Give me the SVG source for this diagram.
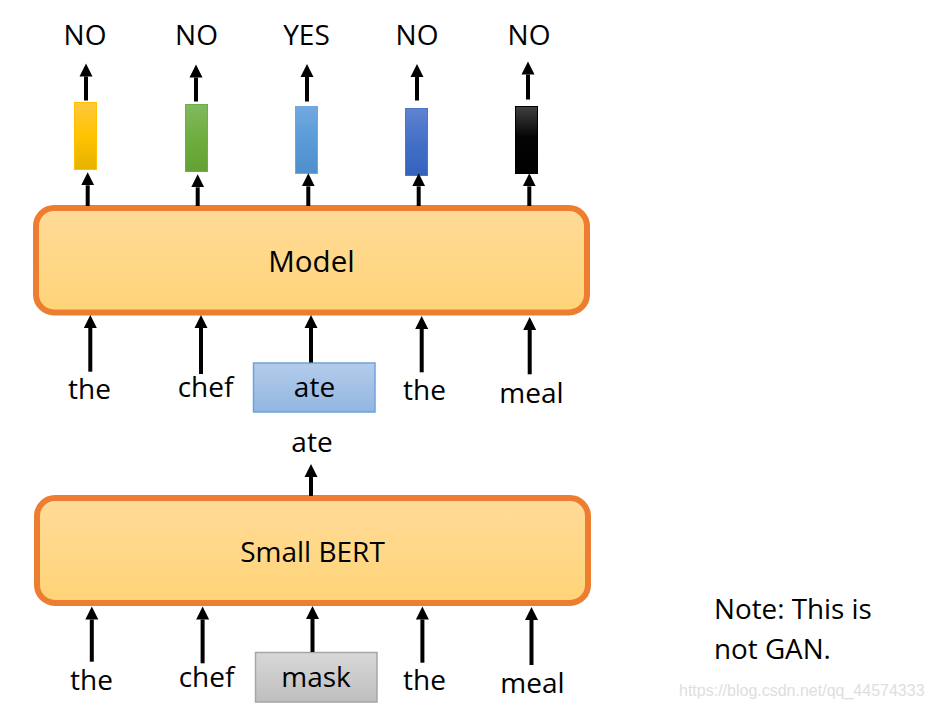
<svg xmlns="http://www.w3.org/2000/svg" width="931" height="709" viewBox="0 0 931 709">
<defs>
<style>
.t{font-family:"Open Sans","Noto Sans","Liberation Sans",sans-serif;fill:#000;text-anchor:middle}
.lbl{font-size:28px}
.big{font-size:29.5px}
.sb{font-size:28px}
.note{font-family:"Open Sans","Noto Sans","Liberation Sans",sans-serif;font-size:27.8px;fill:#000}
.wm{font-family:"Liberation Sans",Arial,sans-serif;font-size:16px;fill:#dedede}
.ar{stroke:#000;stroke-width:4;fill:none;marker-end:url(#ah)}
.box{stroke:#ED7D31;stroke-width:6;fill:url(#gOr)}
</style>
<marker id="ah" markerUnits="userSpaceOnUse" markerWidth="14" markerHeight="14" refX="0" refY="7" orient="auto">
<path d="M0,0.5 L13,7 L0,13.5 z" fill="#000"/>
</marker>
<linearGradient id="gOr" x1="0" y1="0" x2="0" y2="1"><stop offset="0" stop-color="#FFDB99"/><stop offset="1" stop-color="#FFD477"/></linearGradient>
<linearGradient id="gY" x1="0" y1="0" x2="0" y2="1"><stop offset="0" stop-color="#FFC83F"/><stop offset="0.5" stop-color="#FFC300"/><stop offset="1" stop-color="#E6B200"/></linearGradient>
<linearGradient id="gG" x1="0" y1="0" x2="0" y2="1"><stop offset="0" stop-color="#82B95F"/><stop offset="0.5" stop-color="#6EAE3F"/><stop offset="1" stop-color="#62A132"/></linearGradient>
<linearGradient id="gLB" x1="0" y1="0" x2="0" y2="1"><stop offset="0" stop-color="#72A9DF"/><stop offset="0.5" stop-color="#5A9BD8"/><stop offset="1" stop-color="#4F8FCA"/></linearGradient>
<linearGradient id="gB" x1="0" y1="0" x2="0" y2="1"><stop offset="0" stop-color="#5F83CF"/><stop offset="0.5" stop-color="#4470C6"/><stop offset="1" stop-color="#3462BC"/></linearGradient>
<linearGradient id="gK" x1="0" y1="0" x2="0" y2="1"><stop offset="0" stop-color="#404040"/><stop offset="0.45" stop-color="#050505"/><stop offset="1" stop-color="#000"/></linearGradient>
<linearGradient id="gAte" x1="0" y1="0" x2="0" y2="1"><stop offset="0" stop-color="#B3CCEB"/><stop offset="1" stop-color="#92B6E1"/></linearGradient>
<linearGradient id="gMask" x1="0" y1="0" x2="0" y2="1"><stop offset="0" stop-color="#D8D8D8"/><stop offset="1" stop-color="#BEBEBE"/></linearGradient>
</defs>
<rect width="931" height="709" fill="#fff"/>

<g id="model">
<rect class="box" x="36" y="208" width="551" height="104.5" rx="18"/>
<text class="t big" x="311.5" y="272">Model</text>
</g>
<g id="smallbert">
<rect class="box" x="37" y="498" width="551" height="105" rx="18"/>
<text class="t sb" x="312.5" y="561.5">Small BERT</text>
</g>

<g id="out1"><rect x="74.5" y="102.5" width="22" height="67" fill="url(#gY)" stroke="#FFC000" stroke-width="1"/></g>
<g id="out2"><rect x="185.5" y="104.5" width="22" height="67" fill="url(#gG)" stroke="#70AD47" stroke-width="1"/></g>
<g id="out3"><rect x="295.5" y="106.5" width="22" height="67" fill="url(#gLB)" stroke="#6FA8DC" stroke-width="1"/></g>
<g id="out4"><rect x="405.5" y="108.5" width="22" height="67" fill="url(#gB)" stroke="#4A78C8" stroke-width="1"/></g>
<g id="out5"><rect x="515.5" y="106.5" width="22" height="67" fill="url(#gK)" stroke="#000" stroke-width="1"/></g>

<g id="labels-out">
<text class="t lbl" x="85" y="45">NO</text>
<text class="t lbl" x="196.5" y="45">NO</text>
<text class="t lbl" x="306.5" y="45">YES</text>
<text class="t lbl" x="417" y="45">NO</text>
<text class="t lbl" x="529" y="45">NO</text>
</g>

<g id="ate-box">
<rect x="253.5" y="363" width="121.5" height="49" fill="url(#gAte)" stroke="#6FA3D8" stroke-width="1.5"/>
<text class="t lbl" x="314.5" y="397">ate</text>
</g>
<g id="mask-box">
<rect x="255.5" y="652.5" width="121.5" height="49.5" fill="url(#gMask)" stroke="#A6A6A6" stroke-width="1.5"/>
<text class="t lbl" x="316" y="687">mask</text>
</g>

<g id="words-top">
<text class="t lbl" x="89.5" y="399">the</text>
<text class="t lbl" x="205.5" y="397">chef</text>
<text class="t lbl" x="424.5" y="400">the</text>
<text class="t lbl" x="531.5" y="402.5">meal</text>
</g>
<g id="ate-pred"><text class="t lbl" x="312" y="451.5">ate</text></g>
<g id="words-bottom">
<text class="t lbl" x="91.5" y="690">the</text>
<text class="t lbl" x="206.5" y="686.5">chef</text>
<text class="t lbl" x="424.5" y="690">the</text>
<text class="t lbl" x="532.5" y="693">meal</text>
</g>

<g id="note">
<text class="note" x="714" y="618.5">Note: This is</text>
<text class="note" x="714" y="658.5">not GAN.</text>
</g>
<text class="wm" x="679" y="696">https://blog.csdn.net/qq_44574333</text>

<g id="connectors">
<line class="ar" x1="86" y1="100.5" x2="86" y2="76.5"/>
<line class="ar" x1="196" y1="101.5" x2="196" y2="77.5"/>
<line class="ar" x1="307" y1="101.5" x2="307" y2="77"/>
<line class="ar" x1="417" y1="100.5" x2="417" y2="77"/>
<line class="ar" x1="528" y1="99.5" x2="528" y2="74.5"/>

<line class="ar" x1="87.7" y1="206" x2="87.7" y2="185.3"/>
<line class="ar" x1="197.7" y1="206" x2="197.7" y2="187.3"/>
<line class="ar" x1="308.3" y1="206" x2="308.3" y2="186.3"/>
<line class="ar" x1="418.7" y1="206" x2="418.7" y2="186.3"/>
<line class="ar" x1="529.3" y1="206" x2="529.3" y2="186.3"/>

<line class="ar" x1="90.3" y1="371.7" x2="90.3" y2="328"/>
<line class="ar" x1="201" y1="374" x2="201" y2="328"/>
<line class="ar" x1="311" y1="362.5" x2="311" y2="328"/>
<line class="ar" x1="421.7" y1="372.3" x2="421.7" y2="329"/>
<line class="ar" x1="529.7" y1="374.3" x2="529.7" y2="330"/>

<line class="ar" x1="311" y1="496" x2="311" y2="477"/>

<line class="ar" x1="91.8" y1="661.7" x2="91.8" y2="619.5"/>
<line class="ar" x1="202.6" y1="663.3" x2="202.6" y2="619.5"/>
<line class="ar" x1="312.5" y1="652" x2="312.5" y2="619"/>
<line class="ar" x1="422.4" y1="662.7" x2="422.4" y2="619.5"/>
<line class="ar" x1="531.5" y1="665" x2="531.5" y2="620"/>
</g>
</svg>
